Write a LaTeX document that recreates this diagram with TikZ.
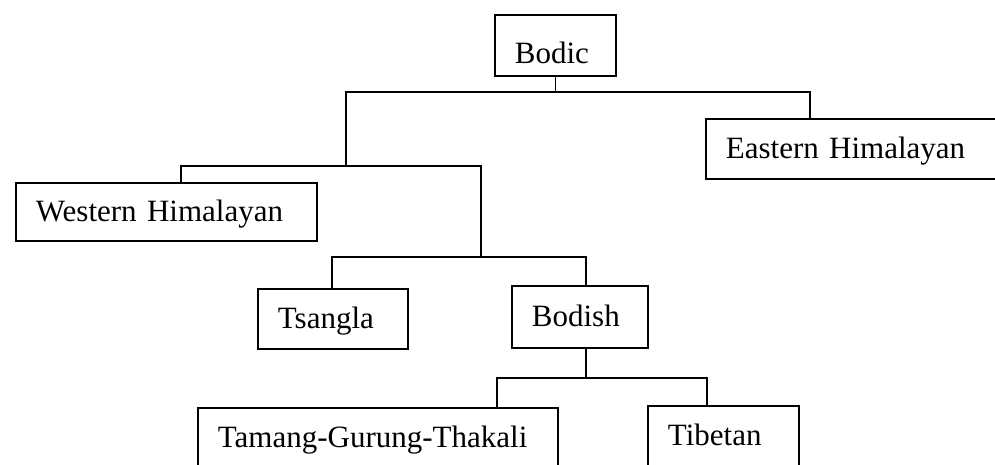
\documentclass[tikz,border=0pt]{standalone}
\usepackage{fontspec}
\setmainfont{Liberation Serif}
\begin{document}
\begin{tikzpicture}[x=1pt,y=-1pt,
  box/.style={draw, line width=1.8pt, inner xsep=20pt, inner ysep=0pt, align=left,
    text height=20pt, text depth=0pt, font=\fontsize{31}{36}\selectfont, anchor=north west},
  conn/.style={line width=1.8pt}]
\clip (0,0) rectangle (995,464);
\useasboundingbox (0,0) rectangle (995,464);
\node[box, text width=81pt, minimum height=61pt, text height=37pt] (bodic) at (494,14) {Bodic};
\node[box, text width=275pt, minimum height=60pt] (eastern) at (705,118) {Eastern Himalayan};
\node[box, text width=261pt, minimum height=58pt] (western) at (15,182) {Western Himalayan};
\node[box, text width=110pt, minimum height=60pt] (tsangla) at (257,288) {Tsangla};
\node[box, text width=96pt, minimum height=62pt] (bodish) at (511,285) {Bodish};
\node[box, text width=320pt, minimum height=60pt] (tamang) at (197,407) {Tamang-Gurung-Thakali};
\node[box, text width=111pt, minimum height=60pt] (tibetan) at (647,405) {Tibetan};
\coordinate (j1) at (346,166);
\coordinate (j2) at (481,257);
\draw[conn] (bodic.south) -- ++(0,15) coordinate (b1);
\draw[conn] (j1) |- (b1) -| ([xshift=105pt]eastern.north west);
\draw[conn] ([xshift=166pt]western.north west) |- (j2 |- j1) -- (j2);
\draw[conn] ([xshift=75pt]tsangla.north west) |- (j2) -| ([xshift=75pt]bodish.north west);
\draw[conn] ([xshift=75pt]bodish.south west) -- ++(0,29) coordinate (b3);
\draw[conn] ([xshift=300pt]tamang.north west) |- (b3) -| ([xshift=60pt]tibetan.north west);
\end{tikzpicture}
\end{document}
